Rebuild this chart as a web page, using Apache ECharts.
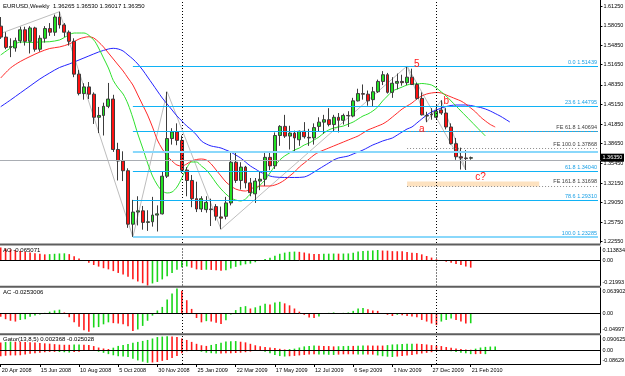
<!DOCTYPE html>
<html>
<head>
<meta charset="utf-8">
<script src="https://cdn.jsdelivr.net/npm/echarts@6/dist/echarts.min.js"></script>
<style>
html, body { margin: 0; padding: 0; background: #fff; }
#chart { width: 625px; height: 376px; }
</style>
</head>
<body>
<div id="chart"></div>
<script>
// weekly slots shown on the time axis (97 bars + empty future room)
const slotCount = 123
const tickDates = ['20 Apr 2008', '15 Jun 2008', '10 Aug 2008', '5 Oct 2008', '30 Nov 2008', '25 Jan 2009', '22 Mar 2009', '17 May 2009', '12 Jul 2009', '6 Sep 2009', '1 Nov 2009', '27 Dec 2009', '21 Feb 2010']
const priceTicks = [1.6125, 1.5805, 1.5485, 1.5165, 1.4835, 1.4515, 1.4185, 1.3865, 1.3545, 1.3215, 1.2905, 1.2575, 1.2255]
const yearStarts = [37, 89]
const lastPrice = 1.3635

// open, close, low, high
const ohlc = [
  [1.5800, 1.5620, 1.5590, 1.5950], [1.5620, 1.5450, 1.5420, 1.5700], [1.5450, 1.5465, 1.5290, 1.5600], [1.5440, 1.5560, 1.5380, 1.5610],
  [1.5560, 1.5740, 1.5520, 1.5790], [1.5740, 1.5550, 1.5480, 1.5790], [1.5550, 1.5770, 1.5350, 1.5800], [1.5770, 1.5420, 1.5380, 1.5790],
  [1.5420, 1.5600, 1.5380, 1.5650], [1.5600, 1.5760, 1.5530, 1.5800], [1.5760, 1.5700, 1.5640, 1.5850], [1.5700, 1.5950, 1.5640, 1.5990],
  [1.5950, 1.5820, 1.5760, 1.6038], [1.5820, 1.5700, 1.5620, 1.5850], [1.5700, 1.5550, 1.5480, 1.5730], [1.5550, 1.5010, 1.4960, 1.5600],
  [1.5010, 1.4690, 1.4660, 1.5080], [1.4690, 1.4800, 1.4590, 1.4860], [1.4800, 1.4680, 1.4600, 1.4880], [1.4680, 1.4300, 1.4190, 1.4710],
  [1.4300, 1.4330, 1.4040, 1.4470], [1.4330, 1.4480, 1.4000, 1.4540], [1.4480, 1.4600, 1.4450, 1.4865], [1.4600, 1.3770, 1.3730, 1.4670],
  [1.3770, 1.3580, 1.3260, 1.3880], [1.3580, 1.3420, 1.3250, 1.3740], [1.3420, 1.2540, 1.2480, 1.3460], [1.2540, 1.2740, 1.2330, 1.2940],
  [1.2740, 1.2760, 1.2520, 1.3000], [1.2760, 1.2570, 1.2450, 1.2840], [1.2570, 1.2580, 1.2430, 1.2770], [1.2580, 1.2690, 1.2500, 1.2990],
  [1.2690, 1.2710, 1.2420, 1.2850], [1.2710, 1.3330, 1.2700, 1.3400], [1.3330, 1.3950, 1.3300, 1.4720], [1.3950, 1.4060, 1.3850, 1.4120],
  [1.4060, 1.3920, 1.3840, 1.4200], [1.3920, 1.3430, 1.3380, 1.4000], [1.3430, 1.3260, 1.3000, 1.3480], [1.3260, 1.2960, 1.2820, 1.3350],
  [1.2960, 1.2790, 1.2740, 1.3240], [1.2790, 1.2960, 1.2740, 1.3000], [1.2780, 1.2900, 1.2730, 1.3000], [1.2790, 1.2780, 1.2510, 1.2960],
  [1.2830, 1.2670, 1.2600, 1.2870], [1.2660, 1.2640, 1.2457, 1.2830], [1.2670, 1.2890, 1.2620, 1.2990], [1.2890, 1.3560, 1.2850, 1.3740],
  [1.3560, 1.3260, 1.3220, 1.3740], [1.3260, 1.3480, 1.3110, 1.3560], [1.3480, 1.3220, 1.3130, 1.3500], [1.3220, 1.3060, 1.3000, 1.3300],
  [1.3040, 1.3250, 1.2890, 1.3300], [1.3250, 1.3280, 1.3100, 1.3400], [1.3280, 1.3640, 1.3170, 1.3740], [1.3640, 1.3500, 1.3430, 1.3740],
  [1.3500, 1.4000, 1.3450, 1.4050], [1.4000, 1.4150, 1.3830, 1.4170], [1.4150, 1.3990, 1.3960, 1.4340], [1.3990, 1.4040, 1.3770, 1.4160],
  [1.4040, 1.3960, 1.3740, 1.4080], [1.3930, 1.4070, 1.3830, 1.4080], [1.4070, 1.3980, 1.3950, 1.4220], [1.3970, 1.3960, 1.3830, 1.4110],
  [1.3960, 1.4130, 1.3850, 1.4200], [1.4150, 1.4220, 1.4070, 1.4300], [1.4220, 1.4260, 1.4030, 1.4340], [1.4260, 1.4180, 1.4150, 1.4450],
  [1.4180, 1.4300, 1.4060, 1.4340], [1.4300, 1.4250, 1.4050, 1.4370], [1.4250, 1.4330, 1.4180, 1.4360], [1.4330, 1.4325, 1.4140, 1.4400],
  [1.4320, 1.4570, 1.4300, 1.4620], [1.4570, 1.4690, 1.4560, 1.4770], [1.4690, 1.4680, 1.4590, 1.4840], [1.4680, 1.4570, 1.4490, 1.4740],
  [1.4590, 1.4720, 1.4480, 1.4800], [1.4720, 1.4890, 1.4700, 1.4920], [1.4890, 1.5000, 1.4830, 1.5060], [1.5000, 1.4710, 1.4690, 1.5030],
  [1.4710, 1.4860, 1.4620, 1.4960], [1.4860, 1.4890, 1.4760, 1.5020], [1.4890, 1.4870, 1.4820, 1.5000], [1.4870, 1.4960, 1.4830, 1.5144],
  [1.4960, 1.4840, 1.4830, 1.5100], [1.4840, 1.4610, 1.4590, 1.4870], [1.4610, 1.4340, 1.4330, 1.4710], [1.4320, 1.4330, 1.4220, 1.4390],
  [1.4350, 1.4340, 1.4260, 1.4450], [1.4300, 1.4400, 1.4260, 1.4510], [1.4420, 1.4370, 1.4340, 1.4580], [1.4370, 1.4140, 1.4100, 1.4450],
  [1.4140, 1.3865, 1.3850, 1.4200], [1.3865, 1.3650, 1.3600, 1.3960], [1.3650, 1.3630, 1.3440, 1.3800], [1.3630, 1.3620, 1.3432, 1.3760],
  [1.36265, 1.36350, 1.36017, 1.36530]
]

// alligator lines: [bar, price]
const lipsLine = [[0, 1.5325], [2, 1.5440], [4, 1.5539], [6, 1.5531], [8, 1.5539], [10, 1.5544], [12, 1.5572], [13, 1.5613], [15, 1.5687], [17, 1.5687], [19, 1.5572], [20, 1.5440], [21, 1.5276], [22, 1.5111], [23, 1.4905], [24, 1.4782], [25, 1.4683], [26, 1.4518], [27, 1.4288], [28, 1.4025], [29, 1.3794], [30, 1.3547], [31, 1.3333], [32, 1.3185], [33, 1.3086], [34, 1.3054], [35, 1.3070], [36, 1.3152], [37, 1.3300], [38, 1.3465], [39, 1.3564], [40, 1.3564], [41, 1.3498], [42, 1.3432], [43, 1.3333], [44, 1.3218], [45, 1.3119], [46, 1.3037], [47, 1.2971], [48, 1.2938], [49, 1.2922], [50, 1.2955], [51, 1.3037], [52, 1.3103], [53, 1.3185], [54, 1.3268], [55, 1.3383], [56, 1.3498], [57, 1.3597], [58, 1.3663], [59, 1.3712], [60, 1.3761], [61, 1.3794], [62, 1.3844], [63, 1.3876], [64, 1.3926], [65, 1.3975], [66, 1.4041], [67, 1.4091], [68, 1.4123], [69, 1.4140], [70, 1.4156], [71, 1.4189], [72, 1.4222], [73, 1.4272], [74, 1.4321], [75, 1.4354], [76, 1.4403], [77, 1.4469], [78, 1.4568], [79, 1.4650], [80, 1.4732], [81, 1.4765], [82, 1.4798], [83, 1.4831], [84, 1.4848], [85, 1.4848], [86, 1.4856], [87, 1.4848], [88, 1.4831], [89, 1.4782], [90, 1.4716], [91, 1.4650], [92, 1.4568], [93, 1.4486], [94, 1.4403], [95, 1.4321], [96, 1.4239], [97, 1.4156], [98, 1.4074], [99, 1.3992]]
const teethLine = [[0, 1.4946], [2, 1.5111], [4, 1.5218], [6, 1.5300], [8, 1.5374], [10, 1.5432], [12, 1.5457], [14, 1.5506], [16, 1.5588], [17, 1.5613], [18, 1.5626], [19, 1.5605], [20, 1.5539], [21, 1.5457], [22, 1.5358], [23, 1.5259], [24, 1.5160], [25, 1.5062], [26, 1.4946], [27, 1.4831], [28, 1.4667], [29, 1.4502], [30, 1.4337], [31, 1.4140], [32, 1.3926], [33, 1.3778], [34, 1.3663], [35, 1.3580], [36, 1.3514], [37, 1.3498], [38, 1.3531], [39, 1.3580], [40, 1.3605], [41, 1.3613], [42, 1.3597], [43, 1.3531], [44, 1.3432], [45, 1.3333], [46, 1.3235], [47, 1.3169], [48, 1.3119], [49, 1.3095], [50, 1.3086], [51, 1.3119], [52, 1.3152], [53, 1.3169], [55, 1.3169], [56, 1.3185], [57, 1.3218], [58, 1.3268], [59, 1.3333], [60, 1.3399], [61, 1.3482], [62, 1.3547], [63, 1.3613], [64, 1.3679], [65, 1.3728], [66, 1.3761], [67, 1.3794], [68, 1.3827], [69, 1.3860], [70, 1.3893], [71, 1.3926], [72, 1.3959], [73, 1.3992], [74, 1.4041], [75, 1.4091], [76, 1.4123], [77, 1.4156], [78, 1.4189], [79, 1.4239], [80, 1.4304], [81, 1.4370], [82, 1.4436], [83, 1.4486], [84, 1.4535], [85, 1.4601], [86, 1.4650], [87, 1.4683], [88, 1.4700], [89, 1.4708], [90, 1.4700], [91, 1.4667], [92, 1.4634], [93, 1.4601], [94, 1.4568], [95, 1.4518], [96, 1.4453], [97, 1.4387], [98, 1.4304], [99, 1.4239], [100, 1.4181], [101, 1.4140]]
const jawLine = [[0, 1.4474], [2, 1.4584], [4, 1.4700], [6, 1.4815], [8, 1.4930], [10, 1.5029], [12, 1.5119], [14, 1.5177], [16, 1.5243], [18, 1.5309], [20, 1.5374], [22, 1.5424], [23, 1.5435], [24, 1.5424], [25, 1.5391], [26, 1.5325], [27, 1.5259], [28, 1.5177], [29, 1.5078], [30, 1.4963], [31, 1.4848], [32, 1.4732], [33, 1.4617], [34, 1.4518], [35, 1.4420], [36, 1.4321], [37, 1.4239], [38, 1.4156], [39, 1.4091], [40, 1.4008], [41, 1.3909], [42, 1.3860], [43, 1.3827], [44, 1.3811], [45, 1.3794], [46, 1.3761], [47, 1.3728], [48, 1.3679], [49, 1.3630], [50, 1.3564], [51, 1.3498], [52, 1.3449], [53, 1.3399], [54, 1.3366], [55, 1.3333], [56, 1.3317], [58, 1.3309], [60, 1.3309], [62, 1.3317], [63, 1.3350], [64, 1.3399], [65, 1.3449], [66, 1.3498], [67, 1.3547], [68, 1.3597], [69, 1.3630], [70, 1.3646], [71, 1.3663], [72, 1.3696], [73, 1.3728], [74, 1.3761], [75, 1.3802], [76, 1.3844], [77, 1.3876], [78, 1.3909], [79, 1.3934], [80, 1.3959], [81, 1.4008], [82, 1.4058], [83, 1.4107], [84, 1.4140], [85, 1.4206], [86, 1.4272], [87, 1.4337], [88, 1.4387], [89, 1.4420], [90, 1.4453], [91, 1.4477], [92, 1.4494], [93, 1.4502], [95, 1.4502], [96, 1.4494], [97, 1.4477], [98, 1.4461], [99, 1.4436], [100, 1.4403], [101, 1.4362], [102, 1.4321], [103, 1.4272], [104, 1.4222]]

const zigzag = [[0, 1.5680], [12, 1.6038], [27, 1.2330], [34, 1.4720], [45, 1.2457], [83, 1.5144], [87, 1.4220], [90, 1.4580], [95, 1.3432]]
const waveLine = [[83, 1.5144], [95, 1.3432]]
const waveMarks = [['5', 85, 1.5177], ['a', 86, 1.4107], ['b', 91, 1.4568], ['c?', 98, 1.3317]]

const fibStart = 27
const fibLevels = [[0.0, 1.51439], [23.6, 1.44795], [38.2, 1.40684], [50.0, 1.37362], [61.8, 1.34040], [78.6, 1.29310], [100.0, 1.23285]]
const feStart = 83
const feLevels = [[61.8, 1.40694], [100.0, 1.37868], [161.8, 1.31698]]
const targetZone = [83, 110, 1.3244, 1.3161]

const aoValues = [
  0.110, 0.100, 0.093, 0.086, 0.079, 0.072, 0.066, 0.060, 0.055, 0.050,
  0.052, 0.055, 0.058, 0.059, 0.052, 0.033, 0.014, 0.002, -0.022, -0.042,
  -0.056, -0.070, -0.080, -0.095, -0.111, -0.125, -0.145, -0.165, -0.185, -0.200,
  -0.2199, -0.202, -0.189, -0.167, -0.139, -0.111, -0.083, -0.062, -0.055, -0.066,
  -0.080, -0.085, -0.083, -0.085, -0.088, -0.092, -0.088, -0.072, -0.058, -0.045,
  -0.036, -0.030, -0.018, -0.005, 0.010, 0.020, 0.038, 0.055, 0.065, 0.072,
  0.074, 0.072, 0.066, 0.058, 0.054, 0.053, 0.055, 0.056, 0.057, 0.056,
  0.057, 0.058, 0.064, 0.074, 0.080, 0.082, 0.084, 0.088, 0.083, 0.082,
  0.078, 0.077, 0.076, 0.070, 0.064, 0.061, 0.050, 0.036, 0.022, 0.008,
  -0.003, -0.014, -0.022, -0.033, -0.042, -0.056, -0.065071
]
const acValues = [
  -0.009, -0.015, -0.019, -0.021, -0.017, -0.015, -0.009, -0.006, -0.003, 0.001,
  0.004, 0.007, 0.009, 0.002, -0.010, -0.023, -0.034, -0.043, -0.047, -0.036,
  -0.035, -0.028, -0.023, -0.025, -0.026, -0.028, -0.033, -0.045, -0.041, -0.032,
  -0.019, -0.006, 0.007, 0.016, 0.035, 0.050, 0.0625, 0.057, 0.033, 0.011,
  -0.012, -0.023, -0.020, -0.021, -0.024, -0.027, -0.018, -0.003, 0.008, 0.016,
  0.018, 0.012, 0.015, 0.019, 0.024, 0.022, 0.027, 0.029, 0.025, 0.020,
  0.012, 0.004, -0.004, -0.011, -0.012, -0.008, -0.002, 0.001, 0.002, 0.000,
  0.001, 0.002, 0.006, 0.012, 0.013, 0.010, 0.007, 0.006, -0.001, -0.004,
  -0.007, -0.004, -0.005, -0.007, -0.008, -0.010, -0.017, -0.021, -0.026, -0.030,
  -0.021, -0.017, -0.013, -0.017, -0.021, -0.026, -0.0253006
]
const gatorUp = [
  0.047, 0.050, 0.053, 0.052, 0.052, 0.050, 0.049, 0.047, 0.044, 0.042,
  0.040, 0.037, 0.034, 0.033, 0.033, 0.034, 0.035, 0.033, 0.032, 0.025,
  0.016, 0.010, 0.007, 0.015, 0.026, 0.032, 0.038, 0.045, 0.051, 0.057,
  0.063, 0.072, 0.081, 0.084, 0.086, 0.084, 0.081, 0.072, 0.063, 0.051,
  0.039, 0.030, 0.026, 0.032, 0.038, 0.045, 0.053, 0.055, 0.056, 0.052,
  0.048, 0.039, 0.030, 0.024, 0.020, 0.016, 0.013, 0.008, 0.004, 0.006,
  0.009, 0.016, 0.023, 0.026, 0.028, 0.027, 0.026, 0.025, 0.023, 0.024,
  0.025, 0.026, 0.026, 0.027, 0.028, 0.028, 0.028, 0.028, 0.028, 0.031,
  0.035, 0.036, 0.038, 0.039, 0.040, 0.039, 0.038, 0.035, 0.031, 0.028,
  0.025, 0.019, 0.014, 0.010, 0.007, 0.004, 0.0024, 0.009, 0.016, 0.020,
  0.022, 0.023
]
const gatorDown = [
  -0.038, -0.035, -0.033, -0.033, -0.032, -0.028, -0.023, -0.020, -0.016, -0.013,
  -0.011, -0.011, -0.012, -0.013, -0.015, -0.012, -0.010, -0.005, -0.001, -0.004,
  -0.010, -0.017, -0.025, -0.032, -0.038, -0.040, -0.043, -0.053, -0.064, -0.072,
  -0.079, -0.077, -0.074, -0.067, -0.061, -0.049, -0.036, -0.020, -0.007, -0.002,
  -0.004, -0.010, -0.016, -0.019, -0.021, -0.021, -0.020, -0.019, -0.018, -0.016,
  -0.013, -0.009, -0.005, -0.004, -0.010, -0.020, -0.031, -0.037, -0.040, -0.038,
  -0.036, -0.033, -0.030, -0.027, -0.025, -0.027, -0.028, -0.029, -0.030, -0.028,
  -0.026, -0.026, -0.026, -0.027, -0.028, -0.028, -0.028, -0.033, -0.038, -0.041,
  -0.043, -0.040, -0.036, -0.034, -0.031, -0.026, -0.021, -0.017, -0.013, -0.006,
  -0.002, -0.004, -0.007, -0.012, -0.016, -0.020, -0.025028, -0.025, -0.023, -0.025
]

const UP = '#19d619'
const DOWN = '#ff1a1a'
const FONT = 'Liberation Sans'
const categories = Array.from({ length: slotCount }, (_, i) => String(i))

// MT4 colours a bar green when it rose against the previous one
function histData (values, useAbs) {
  return values.map((v, i) => {
    const cur = useAbs ? Math.abs(v) : v
    const prev = i > 0 ? (useAbs ? Math.abs(values[i - 1]) : values[i - 1]) : Infinity
    return { value: v, itemStyle: { color: cur > prev ? UP : DOWN } }
  })
}

function yearMarks () {
  return yearStarts.map(i => ({ xAxis: i, lineStyle: { color: '#000', type: [1, 2], width: 1 }, label: { show: false } }))
}

function subAxis (gridIndex, lo, hi, texts) {
  return {
    type: 'value',
    gridIndex: gridIndex,
    position: 'right',
    min: lo,
    max: hi,
    axisLine: { show: true, lineStyle: { color: '#000' } },
    axisTick: { show: false },
    splitLine: { show: false },
    axisLabel: {
      customValues: [hi, 0, lo],
      margin: 2,
      color: '#000',
      fontFamily: FONT,
      fontSize: 5.5,
      formatter: v => v === hi ? '{top|' + texts[0] + '}' : v === lo ? '{bot|' + texts[2] + '}' : texts[1],
      rich: {
        top: { padding: [7, 0, 0, 0], fontSize: 5.5, fontFamily: FONT, color: '#000' },
        bot: { padding: [0, 0, 7, 0], fontSize: 5.5, fontFamily: FONT, color: '#000' }
      }
    }
  }
}

function hiddenX (gridIndex) {
  return { type: 'category', gridIndex: gridIndex, data: categories, boundaryGap: true, show: false }
}

const fibMarks = fibLevels.map(([lv, p]) => {
  const soft = lv === 50 || lv === 100
  return [{
    coord: [fibStart, p],
    lineStyle: { color: soft ? '#8ad8fb' : '#10b2f5', width: soft ? 2 : 1, type: 'solid' },
    label: {
      show: lv !== 38.2 && lv !== 50,
      position: 'insideEndTop',
      distance: 1,
      formatter: lv.toFixed(1) + ' ' + p.toFixed(5),
      color: '#1aa0e6',
      fontFamily: FONT,
      fontSize: 5.5
    }
  }, { coord: [slotCount - 1, p] }]
})
const feMarks = feLevels.map(([lv, p]) => [{
  coord: [feStart, p],
  lineStyle: { color: '#8c8c8c', width: 1, type: [1, 2] },
  label: {
    show: true,
    position: 'insideEndTop',
    distance: 1,
    formatter: 'FE ' + lv.toFixed(1) + ' ' + p.toFixed(5),
    color: '#404040',
    fontFamily: FONT,
    fontSize: 5.5
  }
}, { coord: [slotCount - 1, p] }])

const lineSeries = (name, data, color) => ({
  name: name,
  type: 'line',
  xAxisIndex: 0,
  yAxisIndex: 0,
  data: data,
  symbol: 'none',
  smooth: 0.3,
  lineStyle: { color: color, width: 1 },
  silent: true,
  z: 3
})

const chart = echarts.init(document.getElementById('chart'), null, { renderer: 'canvas' })

chart.setOption({
  animation: false,
  backgroundColor: '#fff',
  grid: [
    { left: -1.75, right: 24.54, top: 0, height: 243, outerBoundsMode: 'none' },
    { left: -1.75, right: 24.54, top: 247, height: 38.5, outerBoundsMode: 'none' },
    { left: -1.75, right: 24.54, top: 288, height: 45, outerBoundsMode: 'none' },
    { left: -1.75, right: 24.54, top: 335.5, height: 28.5, outerBoundsMode: 'none' }
  ],
  xAxis: [
    hiddenX(0),
    hiddenX(1),
    hiddenX(2),
    {
      type: 'category',
      gridIndex: 3,
      data: categories,
      boundaryGap: true,
      axisLine: { show: true, onZero: false, lineStyle: { color: '#000' } },
      axisTick: {
        show: true,
        alignWithLabel: true,
        length: 3,
        interval: i => i % 8 === 0 && i <= 96,
        lineStyle: { color: '#000' }
      },
      axisLabel: {
        interval: i => i % 8 === 0 && i <= 96,
        formatter: (v, i) => tickDates[i / 8] || '',
        align: 'left',
        margin: 3,
        padding: [0, 0, 0, 1],
        color: '#000',
        fontFamily: FONT,
        fontSize: 5.5
      }
    }
  ],
  yAxis: [
    {
      type: 'value',
      gridIndex: 0,
      position: 'right',
      min: 1.22306,
      max: 1.62303,
      axisLine: { show: true, lineStyle: { color: '#000' } },
      axisTick: { show: true, customValues: priceTicks, length: 2, lineStyle: { color: '#000' } },
      splitLine: { show: false },
      axisLabel: {
        customValues: priceTicks,
        formatter: v => v.toFixed(5),
        margin: 3,
        color: '#000',
        fontFamily: FONT,
        fontSize: 5.5
      }
    },
    subAxis(1, -0.21993, 0.113834, ['0.113834', '0.00', '-0.21993']),
    subAxis(2, -0.04997, 0.063902, ['0.063902', '0.00', '-0.04997']),
    subAxis(3, -0.08629, 0.090625, ['0.090625', '0.00', '-0.08629'])
  ],
  series: [
    {
      name: 'EURUSD',
      type: 'candlestick',
      xAxisIndex: 0,
      yAxisIndex: 0,
      data: ohlc,
      barWidth: 3.4,
      silent: true,
      z: 4,
      itemStyle: {
        color: '#22e022',
        color0: '#ff1010',
        borderColor: '#3c3c3c',
        borderColor0: '#3c3c3c',
        borderColorDoji: '#3c3c3c',
        borderWidth: 1
      },
      markArea: {
        silent: true,
        itemStyle: { color: '#fde2c0' },
        data: [[{ coord: [targetZone[0], targetZone[2]] }, { coord: [targetZone[1], targetZone[3]] }]]
      },
      markLine: {
        silent: true,
        symbol: ['none', 'none'],
        animation: false,
        data: [
          { yAxis: lastPrice, lineStyle: { color: '#a9adb3', width: 1, type: 'solid' }, label: { show: false } },
          ...yearMarks(),
          ...fibMarks,
          ...feMarks
        ]
      }
    },
    {
      name: 'zigzag',
      type: 'line',
      xAxisIndex: 0,
      yAxisIndex: 0,
      data: zigzag,
      symbol: 'none',
      lineStyle: { color: '#bdbdbd', width: 1 },
      silent: true,
      z: 2
    },
    {
      name: 'wave',
      type: 'line',
      xAxisIndex: 0,
      yAxisIndex: 0,
      data: waveLine,
      symbol: 'none',
      lineStyle: { color: '#bdbdbd', width: 1 },
      silent: true,
      z: 2
    },
    lineSeries('Jaw', jawLine, '#2424ff'),
    lineSeries('Teeth', teethLine, '#ff2a2a'),
    lineSeries('Lips', lipsLine, '#2ee02e'),
    {
      name: 'AO',
      type: 'bar',
      xAxisIndex: 1,
      yAxisIndex: 1,
      data: histData(aoValues, false),
      barWidth: 1.6,
      silent: true,
      markLine: {
        silent: true,
        symbol: ['none', 'none'],
        data: [{ yAxis: 0, lineStyle: { color: '#000', width: 1, type: 'solid' }, label: { show: false } }, ...yearMarks()]
      }
    },
    {
      name: 'AC',
      type: 'bar',
      xAxisIndex: 2,
      yAxisIndex: 2,
      data: histData(acValues, false),
      barWidth: 1.6,
      silent: true,
      markLine: {
        silent: true,
        symbol: ['none', 'none'],
        data: [{ yAxis: 0, lineStyle: { color: '#000', width: 1, type: 'solid' }, label: { show: false } }, ...yearMarks()]
      }
    },
    {
      name: 'GatorUp',
      type: 'bar',
      xAxisIndex: 3,
      yAxisIndex: 3,
      data: histData(gatorUp, true),
      barWidth: 1.6,
      barGap: '-100%',
      silent: true,
      markLine: {
        silent: true,
        symbol: ['none', 'none'],
        data: [{ yAxis: 0, lineStyle: { color: '#000', width: 1, type: 'solid' }, label: { show: false } }, ...yearMarks()]
      }
    },
    {
      name: 'GatorDown',
      type: 'bar',
      xAxisIndex: 3,
      yAxisIndex: 3,
      data: histData(gatorDown, true),
      barWidth: 1.6,
      barGap: '-100%',
      silent: true
    }
  ]
})

// texts and boxes that sit on top of the plot
const toPx = (i, p) => chart.convertToPixel({ gridIndex: 0 }, [i, p])
const txt = (x, y, text, size, color, extra) => Object.assign({
  type: 'text',
  x: x,
  y: y,
  silent: true,
  z: 20,
  style: { text: text, fill: color, font: size + 'px "' + FONT + '"', textVerticalAlign: 'middle' }
}, extra || {})

const priceY = toPx(0, lastPrice)[1]
const graphics = [
  { type: 'rect', shape: { x: 0, y: 243.5, width: 600.5, height: 2 }, style: { fill: '#5e5e5e' }, silent: true, z: 10 },
  { type: 'rect', shape: { x: 0, y: 285.8, width: 600.5, height: 2 }, style: { fill: '#5e5e5e' }, silent: true, z: 10 },
  { type: 'rect', shape: { x: 0, y: 333.3, width: 600.5, height: 2 }, style: { fill: '#5e5e5e' }, silent: true, z: 10 },
  txt(3, 6, 'EURUSD,Weekly  1.36265 1.36530 1.36017 1.36350', 6, '#000'),
  txt(3, 250.5, 'AO -0.065071', 6, '#000'),
  txt(3, 292.5, 'AC -0.0253006', 6, '#000'),
  txt(3, 339.5, 'Gator(13,8,5) 0.002368 -0.025028', 6, '#000'),
  { type: 'rect', shape: { x: 601, y: priceY - 4, width: 23, height: 8 }, style: { fill: '#000' }, silent: true, z: 20 },
  txt(602.5, priceY, lastPrice.toFixed(5), 5.5, '#fff', { z: 21 })
]
waveMarks.forEach(([label, i, p]) => {
  const pt = toPx(i, p)
  graphics.push(txt(pt[0], pt[1], label, 10, '#ff1a1a', { style: { text: label, fill: '#ff1a1a', font: '10px "' + FONT + '"', textAlign: 'center', textVerticalAlign: 'middle' } }))
})

chart.setOption({ graphic: graphics })
</script>
</body>
</html>
